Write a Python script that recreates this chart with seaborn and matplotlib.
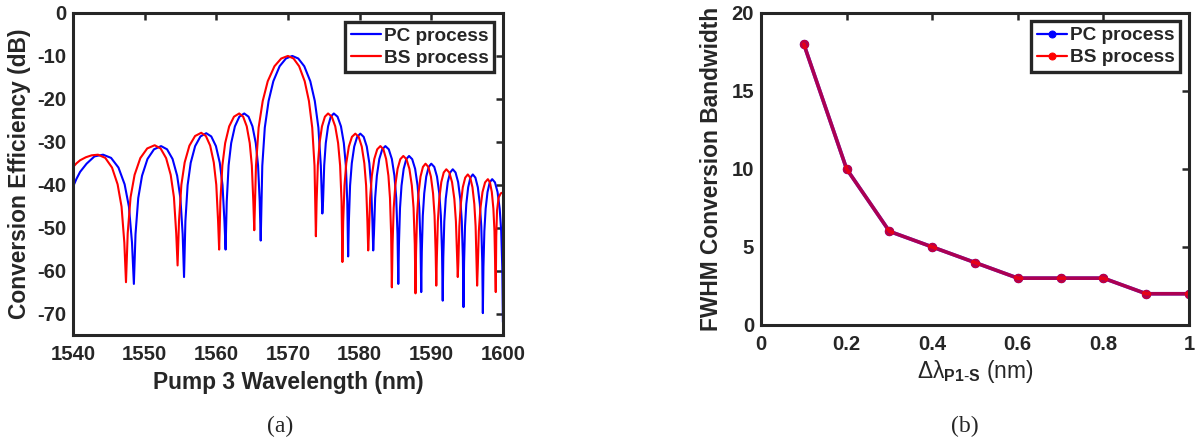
import pandas as pd
import matplotlib
matplotlib.use("Agg")
import matplotlib.pyplot as plt
import seaborn as sns

# (a) conversion efficiency vs pump 3 wavelength (nm, dB)
pc_wavelength = [
    1540.0, 1540.5, 1541.0, 1541.9, 1543.0, 1544.2, 1545.32, 1546.35, 1547.21, 1547.81, 1548.24, 1548.5,
    1548.73, 1549.11, 1549.64, 1550.4, 1551.31, 1552.3, 1553.13, 1553.9, 1554.54, 1554.99, 1555.31, 1555.5,
    1555.69, 1556.0, 1556.43, 1557.05, 1557.79, 1558.6, 1559.3, 1559.95, 1560.49, 1560.87, 1561.14, 1561.3,
    1561.46, 1561.72, 1562.08, 1562.6, 1563.22, 1563.9, 1564.5, 1565.05, 1565.51, 1565.83, 1566.06, 1566.2,
    1566.42, 1566.77, 1567.3, 1567.96, 1568.84, 1569.72, 1570.6, 1571.44, 1572.28, 1573.12, 1573.75,
    1574.25, 1574.59, 1574.8,
    1574.9, 1575.06, 1575.28, 1575.6, 1575.98, 1576.4, 1576.92, 1577.4, 1577.8, 1578.08, 1578.28, 1578.4,
    1578.5, 1578.67, 1578.91, 1579.25, 1579.66, 1580.1, 1580.57, 1581.0, 1581.36, 1581.61, 1581.79, 1581.9,
    1582.0, 1582.17, 1582.41, 1582.75, 1583.16, 1583.6, 1584.07, 1584.5, 1584.86, 1585.11, 1585.29, 1585.4,
    1585.49, 1585.64, 1585.85, 1586.15, 1586.51, 1586.9, 1587.34, 1587.75, 1588.09, 1588.33, 1588.5, 1588.6,
    1588.68, 1588.82, 1589.02, 1589.3, 1589.64, 1590.0, 1590.42, 1590.8, 1591.12, 1591.34, 1591.5, 1591.6,
    1591.68, 1591.82, 1592.02, 1592.3, 1592.64, 1593.0, 1593.39, 1593.75, 1594.05, 1594.26, 1594.41, 1594.5,
    1594.58, 1594.71, 1594.89, 1595.15, 1595.46, 1595.8, 1596.16, 1596.5, 1596.78, 1596.98, 1597.12, 1597.2,
    1597.28, 1597.41, 1597.59, 1597.85, 1598.16, 1598.5, 1598.89, 1599.25, 1599.55, 1599.76, 1599.91, 1600.0,
]
pc_efficiency = [
    -40.5, -38.6, -37.0, -35.1, -33.4, -33.0, -33.75, -36.0, -39.9, -45.1, -53.5, -63.1,
    -51.5, -43.1, -37.9, -34.0, -31.75, -31.0, -31.75, -34.0, -37.9, -43.1, -51.5, -61.5,
    -48.5, -40.1, -34.9, -31.0, -28.75, -28.0, -28.75, -31.0, -34.9, -40.1, -48.5, -55.1,
    -43.9, -35.5, -30.3, -26.4, -24.15, -23.4, -24.15, -26.4, -30.3, -35.5, -43.9, -53.0,
    -35.6, -26.7, -20.5, -15.9, -12.4, -10.6, -10.0, -10.6, -12.4, -15.9, -20.5,
    -26.7, -35.6, -46.7,
    -43.9, -35.5, -30.3, -26.4, -24.15, -23.4, -24.15, -26.4, -30.3, -35.5, -43.9, -56.7,
    -48.6, -40.2, -35.0, -31.1, -28.85, -28.1, -28.85, -31.1, -35.0, -40.2, -48.6, -55.3,
    -51.5, -43.1, -37.9, -34.0, -31.75, -31.0, -31.75, -34.0, -37.9, -43.1, -51.5, -63.1,
    -53.8, -45.4, -40.2, -36.3, -34.05, -33.3, -34.05, -36.3, -40.2, -45.4, -53.8, -65.0,
    -55.6, -47.2, -42.0, -38.1, -35.85, -35.1, -35.85, -38.1, -42.0, -47.2, -55.6, -67.0,
    -56.9, -48.5, -43.3, -39.4, -37.15, -36.4, -37.15, -39.4, -43.3, -48.5, -56.9, -68.5,
    -58.1, -49.7, -44.5, -40.6, -38.35, -37.6, -38.35, -40.6, -44.5, -49.7, -58.1, -69.9,
    -59.2, -50.8, -45.6, -41.7, -39.45, -38.7, -39.45, -41.7, -45.6, -50.8, -59.2, -72.0,
]
bs_wavelength = [
    1540.0, 1540.5, 1541.0, 1541.8, 1542.6, 1543.5, 1544.51, 1545.45, 1546.23, 1546.78, 1547.17, 1547.4,
    1547.64, 1548.04, 1548.6, 1549.4, 1550.36, 1551.4, 1552.23, 1553.0, 1553.64, 1554.09, 1554.41, 1554.6,
    1554.8, 1555.13, 1555.59, 1556.25, 1557.04, 1557.9, 1558.55, 1559.15, 1559.65, 1560.0, 1560.25, 1560.4,
    1560.57, 1560.85, 1561.24, 1561.8, 1562.47, 1563.2, 1563.75, 1564.25, 1564.67, 1564.96, 1565.17, 1565.3,
    1565.54, 1565.91, 1566.48, 1567.18, 1568.12, 1569.06, 1570.0, 1570.78, 1571.56, 1572.34, 1572.93,
    1573.39, 1573.71, 1573.9,
    1574.0, 1574.17, 1574.41, 1574.75, 1575.16, 1575.6, 1576.12, 1576.6, 1577.0, 1577.28, 1577.48, 1577.6,
    1577.71, 1577.89, 1578.14, 1578.5, 1578.93, 1579.4, 1579.87, 1580.3, 1580.66, 1580.91, 1581.09, 1581.2,
    1581.3, 1581.47, 1581.71, 1582.05, 1582.46, 1582.9, 1583.32, 1583.7, 1584.02, 1584.24, 1584.4, 1584.5,
    1584.6, 1584.76, 1584.98, 1585.3, 1585.68, 1586.1, 1586.54, 1586.95, 1587.29, 1587.53, 1587.7, 1587.8,
    1587.88, 1588.02, 1588.22, 1588.5, 1588.84, 1589.2, 1589.59, 1589.95, 1590.25, 1590.46, 1590.61, 1590.7,
    1590.78, 1590.92, 1591.12, 1591.4, 1591.74, 1592.1, 1592.52, 1592.9, 1593.22, 1593.44, 1593.6, 1593.7,
    1593.78, 1593.92, 1594.12, 1594.4, 1594.74, 1595.1, 1595.44, 1595.75, 1596.01, 1596.19, 1596.32, 1596.4,
    1596.49, 1596.64, 1596.85, 1597.15, 1597.51, 1597.9, 1598.19, 1598.45, 1598.67, 1598.82, 1598.93, 1599.0,
    1599.07, 1599.18, 1599.4, 1599.7, 1600.0,
]
bs_efficiency = [
    -35.9, -35.0, -34.3, -33.6, -33.15, -33.0, -33.75, -36.0, -39.9, -45.1, -53.5, -62.7,
    -51.3, -42.9, -37.7, -33.8, -31.55, -30.8, -31.55, -33.8, -37.7, -42.9, -51.3, -58.8,
    -48.4, -40.0, -34.8, -30.9, -28.65, -27.9, -28.65, -30.9, -34.8, -40.0, -48.4, -55.1,
    -43.9, -35.5, -30.3, -26.4, -24.15, -23.4, -24.15, -26.4, -30.3, -35.5, -43.9, -50.6,
    -35.6, -26.7, -20.5, -15.9, -12.4, -10.6, -10.0, -10.6, -12.4, -15.9, -20.5,
    -26.7, -35.6, -52.0,
    -43.9, -35.5, -30.3, -26.4, -24.15, -23.4, -24.15, -26.4, -30.3, -35.5, -43.9, -58.0,
    -48.6, -40.2, -35.0, -31.1, -28.85, -28.1, -28.85, -31.1, -35.0, -40.2, -48.6, -55.3,
    -51.5, -43.1, -37.9, -34.0, -31.75, -31.0, -31.75, -34.0, -37.9, -43.1, -51.5, -63.9,
    -53.8, -45.4, -40.2, -36.3, -34.05, -33.3, -34.05, -36.3, -40.2, -45.4, -53.8, -65.3,
    -55.6, -47.2, -42.0, -38.1, -35.85, -35.1, -35.85, -38.1, -42.0, -47.2, -55.6, -63.5,
    -56.9, -48.5, -43.3, -39.4, -37.15, -36.4, -37.15, -39.4, -43.3, -48.5, -56.9, -61.5,
    -58.1, -49.7, -44.5, -40.6, -38.35, -37.6, -38.35, -40.6, -44.5, -49.7, -58.1, -63.5,
    -59.2, -50.8, -45.6, -41.7, -39.45, -38.7, -39.45, -41.7, -45.6, -50.8, -59.2, -65.0,
    -52.0, -46.0, -43.0, -42.0, -41.8,
]

# (b) FWHM conversion bandwidth vs delta lambda P1-S
delta_lambda = [0.1, 0.2, 0.3, 0.4, 0.5, 0.6, 0.7, 0.8, 0.9, 1.0]
pc_fwhm = [18, 10, 6, 5, 4, 3, 3, 3, 2, 2]
bs_fwhm = [18, 10, 6, 5, 4, 3, 3, 3, 2, 2]

INK = '#262626'
TICK_FS = 14.6
LABEL_FS = 16.4

sns.set_theme(style='white')
plt.rcParams['font.family'] = ['Liberation Sans', 'DejaVu Sans']
plt.rcParams['axes.unicode_minus'] = False
plt.rcParams['mathtext.fontset'] = 'custom'
plt.rcParams['mathtext.rm'] = 'Liberation Sans'
plt.rcParams['mathtext.it'] = 'Liberation Sans:italic'
plt.rcParams['mathtext.bf'] = 'Liberation Sans:bold'

fig = plt.figure(figsize=(11.98, 4.48), dpi=100)
ax_a = fig.add_axes([0.0609, 0.2522, 0.3589, 0.7188])
ax_b = fig.add_axes([0.6352, 0.2746, 0.3573, 0.6969])

spec_pc = pd.DataFrame({'wl': pc_wavelength, 'ce': pc_efficiency})
spec_bs = pd.DataFrame({'wl': bs_wavelength, 'ce': bs_efficiency})
sns.lineplot(data=spec_pc, x='wl', y='ce', sort=False, estimator=None, color='#0000ff',
             lw=1.5, ax=ax_a, label='PC process')
sns.lineplot(data=spec_bs, x='wl', y='ce', sort=False, estimator=None, color='#ff0000',
             lw=1.5, ax=ax_a, label='BS process')
ax_a.set_xlim(1540, 1600)
ax_a.set_ylim(-75, 0)
ax_a.set_xticks(range(1540, 1601, 10))
ax_a.set_yticks(range(-70, 1, 10))
ax_a.set_xlabel('Pump 3 Wavelength (nm)', fontsize=LABEL_FS, fontweight='bold', color=INK, labelpad=5)
ax_a.set_ylabel('Conversion Efficiency (dB)', fontsize=LABEL_FS, fontweight='bold', color=INK, labelpad=4)

fwhm = pd.DataFrame({'dl': delta_lambda, 'pc': pc_fwhm, 'bs': bs_fwhm})
sns.lineplot(data=fwhm, x='dl', y='pc', color='#0000ff', lw=2.6, marker='o', ms=6,
             mec='#0000ff', ax=ax_b, label='PC process')
sns.lineplot(data=fwhm, x='dl', y='bs', color='#ff0000', lw=2.6, marker='o', ms=6,
             mec='#ff0000', alpha=0.68, ax=ax_b, label='BS process')
ax_b.set_xlim(0, 1)
ax_b.set_ylim(0, 20)
ax_b.set_xticks([0, 0.2, 0.4, 0.6, 0.8, 1])
ax_b.set_xticklabels(['0', '0.2', '0.4', '0.6', '0.8', '1'])
ax_b.set_yticks([0, 5, 10, 15, 20])
# delta lambda and (nm) are in normal weight, only the subscript is bold
ax_b.set_xlabel(r'$\mathrm{\Delta\lambda}_{\mathbf{P1\text{-}S}}$ (nm)', fontsize=LABEL_FS,
                fontweight='normal', color=INK, labelpad=3)
ax_b.set_ylabel('FWHM Conversion Bandwidth', fontsize=LABEL_FS, fontweight='bold', color=INK, labelpad=6)

for ax in (ax_a, ax_b):
    for s in ax.spines.values():
        s.set_visible(True)
        s.set_linewidth(2.2)
        s.set_color(INK)
    ax.tick_params(direction='in', length=5, width=1.8, color=INK, top=True, right=True,
                   labelsize=TICK_FS, labelcolor=INK)
    ax.tick_params(axis='x', pad=7)
    ax.tick_params(axis='y', pad=5)
    for t in ax.get_xticklabels() + ax.get_yticklabels():
        t.set_fontweight('bold')
    leg = ax.legend(loc='upper right', fontsize=13.7, handlelength=1.6, handletextpad=0.15,
                    borderpad=0.3, labelspacing=0.25, borderaxespad=0.45, fancybox=False,
                    framealpha=1)
    leg.get_frame().set_edgecolor(INK)
    leg.get_frame().set_linewidth(2.4)
    for txt in leg.get_texts():
        txt.set_fontweight('bold')
        txt.set_color(INK)
    for h in leg.legend_handles:
        h.set_alpha(1)
        h.set_linewidth(1.6)
        h.set_markersize(5)

fig.text(0.234, 0.035, '(a)', family='Liberation Serif', fontsize=17, ha='center', color=INK)
fig.text(0.805, 0.035, '(b)', family='Liberation Serif', fontsize=17, ha='center', color=INK)

fig.savefig('out.png', dpi=100)
